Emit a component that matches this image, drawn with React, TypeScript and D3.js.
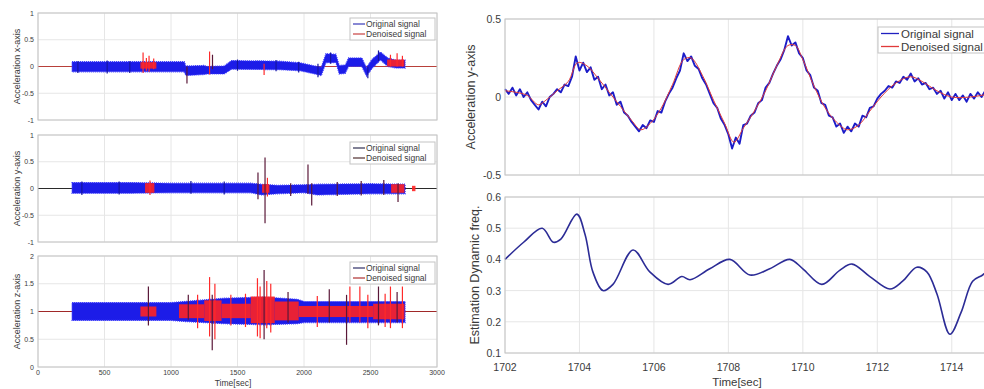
import React from 'react';
import * as d3 from 'd3';

// ---------- Left column: long records (Time 0..3000 s) ----------
const leftXTicks = [0, 500, 1000, 1500, 2000, 2500, 3000];
const leftXTickLabels = ['0', '500', '1000', '1500', '2000', '2500', '3000'];
const accTicks = [-1, -0.5, 0, 0.5, 1];
const accTickLabels = ['-1', '-0.5', '0', '0.5', '1'];
const zTicks = [0, 0.5, 1, 1.5, 2];
const zTickLabels = ['0', '0.5', '1', '1.5', '2'];
const legendLabels = ['Original signal', 'Denoised signal'];

// x-axis acceleration
const xBandT = [256, 1100, 1112, 1250, 1270, 1400, 1455, 1820, 1970, 2100, 2130, 2165, 2240, 2265, 2310, 2335, 2435, 2470, 2510, 2575, 2630, 2690, 2760];
const xBandLo = [-0.1, -0.1, -0.17, -0.15, -0.14, -0.14, -0.05, -0.06, -0.08, -0.15, -0.17, 0.07, 0.07, -0.14, -0.13, 0.0, 0.0, -0.18, -0.04, 0.12, 0.0, -0.03, -0.03];
const xBandHi = [0.09, 0.09, 0.01, 0.02, 0.0, 0.01, 0.11, 0.1, 0.07, 0.0, -0.01, 0.24, 0.23, 0.02, 0.03, 0.16, 0.16, -0.02, 0.13, 0.27, 0.16, 0.12, 0.12];
const xRedStart = [770, 2625];
const xRedEnd = [890, 2755];
const xRedLo = [-0.04, 0.0];
const xRedHi = [0.08, 0.13];
const xSpikeT = [300, 520, 690, 790, 815, 835, 870, 1120, 1290, 1312, 1500, 1700, 1790, 1960, 2105, 2200, 2480, 2560, 2650, 2700, 2740];
const xSpikeLo = [-0.12, -0.13, -0.12, -0.12, -0.08, -0.1, -0.05, -0.32, -0.15, -0.05, -0.08, -0.16, -0.09, -0.11, -0.2, 0.05, -0.22, 0.1, 0.0, 0.0, 0.0];
const xSpikeHi = [0.1, 0.11, 0.1, 0.26, 0.16, 0.2, 0.15, 0.0, 0.28, 0.22, 0.13, 0.05, 0.12, 0.09, 0.05, 0.26, 0.0, 0.3, 0.22, 0.25, 0.2];
const xSpikeC = ['b', 'b', 'b', 'r', 'r', 'r', 'r', 'k', 'r', 'k', 'b', 'r', 'b', 'b', 'b', 'b', 'b', 'b', 'r', 'r', 'r'];

// y-axis acceleration
const yBandT = [256, 700, 1000, 1600, 1680, 1800, 2000, 2100, 2500, 2760];
const yBandLo = [-0.09, -0.09, -0.08, -0.08, -0.12, -0.1, -0.08, -0.12, -0.1, -0.1];
const yBandHi = [0.11, 0.11, 0.1, 0.1, 0.08, 0.06, 0.07, 0.08, 0.09, 0.08];
const yRedStart = [805, 1685, 2655, 2812];
const yRedEnd = [875, 1740, 2755, 2838];
const yRedLo = [-0.08, -0.08, -0.08, -0.05];
const yRedHi = [0.1, 0.08, 0.08, 0.05];
const ySpikeT = [330, 610, 842, 1150, 1400, 1654, 1707, 1725, 1900, 2030, 2058, 2250, 2430, 2600, 2707];
const ySpikeLo = [-0.12, -0.11, -0.12, -0.1, -0.11, -0.2, -0.65, -0.15, -0.14, -0.1, -0.32, -0.14, -0.13, -0.12, -0.25];
const ySpikeHi = [0.13, 0.13, 0.15, 0.14, 0.13, 0.3, 0.58, 0.2, 0.1, 0.45, 0.1, 0.12, 0.14, 0.16, 0.1];
const ySpikeC = ['b', 'b', 'r', 'b', 'b', 'k', 'k', 'r', 'k', 'k', 'k', 'k', 'k', 'k', 'k'];

// z-axis acceleration
const zBandT = [256, 1000, 1100, 1400, 1700, 1950, 2000, 2760];
const zBandLo = [0.84, 0.84, 0.82, 0.78, 0.76, 0.78, 0.8, 0.8];
const zBandHi = [1.16, 1.16, 1.18, 1.24, 1.26, 1.22, 1.18, 1.18];
const zRedStart = [770, 1060, 1250, 1380, 1600, 1780, 1960, 2520];
const zRedEnd = [890, 1250, 1380, 1600, 1780, 1960, 2520, 2755];
const zRedLo = [0.91, 0.88, 0.83, 0.88, 0.79, 0.84, 0.9, 0.86];
const zRedHi = [1.09, 1.13, 1.2, 1.14, 1.27, 1.18, 1.1, 1.14];
const zSpikeT = [830, 1130, 1200, 1290, 1310, 1330, 1450, 1560, 1650, 1670, 1700, 1720, 1750, 1880, 2100, 2190, 2320, 2345, 2420, 2480, 2560, 2610, 2650, 2700, 2740];
const zSpikeLo = [0.75, 0.85, 0.7, 0.55, 0.3, 0.5, 0.75, 0.72, 0.55, 0.52, 0.5, 0.7, 0.62, 0.8, 0.72, 0.8, 0.4, 0.8, 0.8, 0.7, 0.75, 0.72, 0.7, 0.8, 0.7];
const zSpikeHi = [1.45, 1.3, 1.3, 1.62, 1.3, 1.5, 1.3, 1.32, 1.6, 1.45, 1.75, 1.55, 1.5, 1.35, 1.28, 1.4, 1.3, 1.45, 1.45, 1.3, 1.45, 1.32, 1.45, 1.35, 1.45];
const zSpikeC = ['k', 'k', 'r', 'r', 'k', 'r', 'r', 'r', 'r', 'r', 'k', 'r', 'r', 'k', 'r', 'k', 'k', 'r', 'r', 'r', 'k', 'r', 'r', 'k', 'r'];

// ---------- Right column: zoom 1702..1715 s ----------
const rightXTicks = [1702, 1704, 1706, 1708, 1710, 1712, 1714];
const rightXTickLabels = ['1702', '1704', '1706', '1708', '1710', '1712', '1714'];
const rTopTicks = [-0.5, 0, 0.5];
const rTopTickLabels = ['-0.5', '0', '0.5'];
const freqTicks = [0.1, 0.2, 0.3, 0.4, 0.5, 0.6];
const freqTickLabels = ['0.1', '0.2', '0.3', '0.4', '0.5', '0.6'];

const origStart = 1702;
const origStep = 0.1;
const originalSignal = [
  0.05, 0.02, 0.06, 0.01, 0.05, 0.0, 0.03, -0.02, -0.05, -0.08,
  -0.03, -0.06, 0.0, 0.02, 0.05, 0.03, 0.08, 0.07, 0.13, 0.26,
  0.17, 0.22, 0.16, 0.19, 0.11, 0.13, 0.05, 0.08, 0.01, 0.03,
  -0.05, -0.03, -0.1, -0.12, -0.16, -0.19, -0.22, -0.18, -0.2, -0.15,
  -0.16, -0.09, -0.1, -0.03, 0.02, 0.06, 0.12, 0.17, 0.28, 0.23,
  0.26, 0.2, 0.18, 0.12, 0.08, 0.02, -0.04, -0.07, -0.14, -0.18,
  -0.24, -0.33, -0.26, -0.3, -0.18, -0.17, -0.12, -0.1, -0.04, -0.02,
  0.06, 0.09, 0.15, 0.2, 0.24, 0.3, 0.39, 0.33, 0.35, 0.28,
  0.25, 0.17, 0.14, 0.06, 0.04, -0.04, -0.05, -0.12, -0.13, -0.19,
  -0.17, -0.23, -0.19, -0.22, -0.17, -0.19, -0.12, -0.13, -0.07, -0.06,
  -0.01, 0.02, 0.04, 0.07, 0.06, 0.1, 0.09, 0.13, 0.11, 0.15,
  0.1, 0.12, 0.08, 0.09, 0.05, 0.06, 0.02, 0.04, -0.01, 0.03,
  -0.02, 0.02, -0.02, 0.01, -0.03, 0.02, -0.01, 0.03, 0.0, 0.04, 0.01,
];
const denoisedT = [1702.0, 1702.3, 1702.6, 1702.9, 1703.1, 1703.4, 1703.7, 1703.95, 1704.2, 1704.5, 1704.8, 1705.1, 1705.4, 1705.65, 1705.9, 1706.2, 1706.5, 1706.8, 1707.0, 1707.3, 1707.6, 1707.9, 1708.15, 1708.4, 1708.7, 1709.0, 1709.3, 1709.6, 1709.8, 1710.0, 1710.3, 1710.6, 1710.9, 1711.2, 1711.5, 1711.8, 1712.1, 1712.5, 1712.9, 1713.2, 1713.6, 1714.0, 1714.5, 1715.0];
const denoisedV = [0.04, 0.03, 0.01, -0.05, -0.02, 0.04, 0.1, 0.22, 0.2, 0.12, 0.03, -0.06, -0.15, -0.21, -0.17, -0.07, 0.08, 0.24, 0.25, 0.14, -0.02, -0.17, -0.29, -0.2, -0.09, 0.04, 0.2, 0.33, 0.33, 0.24, 0.07, -0.07, -0.16, -0.21, -0.18, -0.09, 0.0, 0.09, 0.13, 0.1, 0.04, 0.0, 0.0, 0.02];

const freqT = [1702.0, 1702.5, 1703.0, 1703.3, 1703.5, 1703.93, 1704.15, 1704.36, 1704.63, 1704.9, 1705.44, 1705.89, 1706.38, 1706.75, 1706.97, 1707.5, 1708.04, 1708.58, 1709.11, 1709.65, 1710.0, 1710.51, 1710.99, 1711.32, 1711.8, 1712.34, 1712.68, 1713.06, 1713.33, 1713.6, 1713.95, 1714.25, 1714.56, 1714.83, 1715.0];
const freqV = [0.4, 0.455, 0.5, 0.455, 0.465, 0.545, 0.48, 0.36, 0.3, 0.32, 0.43, 0.36, 0.32, 0.345, 0.335, 0.37, 0.4, 0.35, 0.37, 0.4, 0.37, 0.32, 0.365, 0.385, 0.345, 0.305, 0.33, 0.375, 0.36, 0.29, 0.16, 0.23, 0.33, 0.35, 0.37];

const FONT = "'Liberation Sans', Arial, Helvetica, sans-serif";
const GRID = '#e6e6e6';
const BOX = '#c4c4c4';
const TXT = '#3a3a3a';
const BLUE = '#1c1ce8';
const RED = '#ff2222';
const spikeColor: Record<string, string> = { r: '#ff2a2a', k: '#5a1838', b: '#1515a0' };

const lx = d3.scaleLinear().domain([0, 3000]).range([38, 437]);

type LeftProps = {
  top: number; bottom: number; domain: [number, number];
  ticks: number[]; tickLabels: string[]; label: string; base: number; baseColor: string;
  bandT: number[]; bandLo: number[]; bandHi: number[];
  redStart: number[]; redEnd: number[]; redLo: number[]; redHi: number[];
  spT: number[]; spLo: number[]; spHi: number[]; spC: string[];
  legendTop: number; legendColors: string[]; showX: boolean;
};

function LeftPanel(p: LeftProps) {
  const y = d3.scaleLinear().domain(p.domain).range([p.bottom, p.top]);
  const idx = p.bandT.map((_, i) => i);
  const band = d3.area<number>().x(i => lx(p.bandT[i])).y0(i => y(p.bandLo[i])).y1(i => y(p.bandHi[i]));
  const x0 = lx.range()[0], x1 = lx.range()[1];
  const mid = (p.top + p.bottom) / 2;
  return (
    <g>
      {leftXTicks.map(t => <line key={'gx' + t} x1={lx(t)} x2={lx(t)} y1={p.top} y2={p.bottom} stroke={GRID} />)}
      {p.ticks.map(t => <line key={'gy' + t} x1={x0} x2={x1} y1={y(t)} y2={y(t)} stroke={GRID} />)}
      <line x1={lx(0)} x2={lx(3000)} y1={y(p.base)} y2={y(p.base)} stroke={p.baseColor} strokeWidth={1} />
      <path d={band(idx) || ''} fill={BLUE} stroke="#3a3aff" strokeWidth={1.2} strokeDasharray="1 1" />
      {p.redStart.map((s, i) => (
        <rect key={'rd' + i} x={lx(s)} width={lx(p.redEnd[i]) - lx(s)} y={y(p.redHi[i])} height={y(p.redLo[i]) - y(p.redHi[i])} fill={RED} opacity={0.9} />
      ))}
      {p.spT.map((t, i) => (
        <line key={'sp' + i} x1={lx(t)} x2={lx(t)} y1={y(p.spLo[i])} y2={y(p.spHi[i])} stroke={spikeColor[p.spC[i]]} strokeWidth={1.2} />
      ))}
      <rect x={x0} y={p.top} width={x1 - x0} height={p.bottom - p.top} fill="none" stroke={BOX} />
      {p.ticks.map((t, i) => (
        <text key={'yt' + t} x={34} y={y(t) + 2.5} fontSize={7} textAnchor="end" fill={TXT}>{p.tickLabels[i]}</text>
      ))}
      {p.showX && leftXTicks.map((t, i) => (
        <text key={'xt' + t} x={lx(t)} y={375} fontSize={7} textAnchor="middle" fill={TXT}>{leftXTickLabels[i]}</text>
      ))}
      <text transform={`translate(20,${mid}) rotate(-90)`} fontSize={9} textAnchor="middle" fill={TXT}>{p.label}</text>
      <rect x={350} y={p.legendTop} width={85} height={22} fill="#fff" stroke={BOX} />
      {legendLabels.map((l, i) => (
        <g key={l}>
          <line x1={353} x2={365} y1={p.legendTop + 6 + i * 10} y2={p.legendTop + 6 + i * 10} stroke={p.legendColors[i]} strokeWidth={1.2} />
          <text x={366} y={p.legendTop + 9 + i * 10} fontSize={8.5} fill={TXT}>{l}</text>
        </g>
      ))}
    </g>
  );
}

export default function App() {
  const rx = d3.scaleLinear().domain([1702, 1715]).range([505, 989]);
  const ryTop = d3.scaleLinear().domain([-0.5, 0.5]).range([175, 19]);
  const ryBot = d3.scaleLinear().domain([0.1, 0.6]).range([353, 197]);
  const origLine = d3.line<number>().x((_, i) => rx(origStart + i * origStep)).y(v => ryTop(v));
  const denIdx = denoisedT.map((_, i) => i);
  const denLine = d3.line<number>().x(i => rx(denoisedT[i])).y(i => ryTop(denoisedV[i])).curve(d3.curveCatmullRom);
  const freqIdx = freqT.map((_, i) => i);
  const freqLine = d3.line<number>().x(i => rx(freqT[i])).y(i => ryBot(freqV[i])).curve(d3.curveCatmullRom);
  const rx0 = 505, rx1 = 989;

  return (
    <svg width={984} height={389} style={{ position: 'fixed', left: 0, top: 0, background: '#fff' }} fontFamily={FONT}>
      <rect x={0} y={0} width={984} height={389} fill="#fff" />
      <LeftPanel top={13} bottom={120} domain={[-1, 1]} ticks={accTicks} tickLabels={accTickLabels}
        label="Acceleration x-axis" base={0} baseColor="#b8403a"
        bandT={xBandT} bandLo={xBandLo} bandHi={xBandHi}
        redStart={xRedStart} redEnd={xRedEnd} redLo={xRedLo} redHi={xRedHi}
        spT={xSpikeT} spLo={xSpikeLo} spHi={xSpikeHi} spC={xSpikeC}
        legendTop={18} legendColors={['#3a3ab8', '#c84040']} showX={false} />
      <LeftPanel top={135} bottom={242} domain={[-1, 1]} ticks={accTicks} tickLabels={accTickLabels}
        label="Acceleration y-axis" base={0} baseColor="#2a2a2a"
        bandT={yBandT} bandLo={yBandLo} bandHi={yBandHi}
        redStart={yRedStart} redEnd={yRedEnd} redLo={yRedLo} redHi={yRedHi}
        spT={ySpikeT} spLo={ySpikeLo} spHi={ySpikeHi} spC={ySpikeC}
        legendTop={142} legendColors={['#303050', '#503030']} showX={false} />
      <LeftPanel top={256} bottom={367} domain={[0, 2]} ticks={zTicks} tickLabels={zTickLabels}
        label="Acceleration z-axis" base={1} baseColor="#a02828"
        bandT={zBandT} bandLo={zBandLo} bandHi={zBandHi}
        redStart={zRedStart} redEnd={zRedEnd} redLo={zRedLo} redHi={zRedHi}
        spT={zSpikeT} spLo={zSpikeLo} spHi={zSpikeHi} spC={zSpikeC}
        legendTop={262} legendColors={['#303068', '#b03030']} showX={true} />
      <text x={233} y={386} fontSize={8.5} textAnchor="middle" fill={TXT}>Time[sec]</text>

      {/* Right top */}
      <g>
        {rightXTicks.map(t => <line key={'g1' + t} x1={rx(t)} x2={rx(t)} y1={19} y2={175} stroke={GRID} />)}
        {rTopTicks.map(t => <line key={'h1' + t} x1={rx0} x2={rx1} y1={ryTop(t)} y2={ryTop(t)} stroke={GRID} />)}
        <path d={origLine(originalSignal) || ''} fill="none" stroke="#1c1cc8" strokeWidth={1.9} strokeLinejoin="round" />
        <path d={denLine(denIdx) || ''} fill="none" stroke="#e03a3a" strokeWidth={1} />
        <rect x={rx0} y={19} width={rx1 - rx0} height={156} fill="none" stroke={BOX} />
        {rTopTicks.map((t, i) => (
          <text key={'t1' + t} x={501} y={ryTop(t) + 4} fontSize={10.5} textAnchor="end" fill={TXT}>{rTopTickLabels[i]}</text>
        ))}
        <text transform={`translate(475,97) rotate(-90)`} fontSize={12.5} textAnchor="middle" fill={TXT}>Acceleration y-axis</text>
        <rect x={878} y={27} width={120} height={26} fill="#fff" stroke={BOX} />
        {legendLabels.map((l, i) => (
          <g key={'rl' + l}>
            <line x1={881} x2={899} y1={33.5 + i * 13} y2={33.5 + i * 13} stroke={i === 0 ? '#2020c0' : '#e03a3a'} strokeWidth={1.3} />
            <text x={901} y={37.5 + i * 13} fontSize={11.5} fill={TXT}>{l}</text>
          </g>
        ))}
      </g>

      {/* Right bottom */}
      <g>
        {rightXTicks.map(t => <line key={'g2' + t} x1={rx(t)} x2={rx(t)} y1={197} y2={353} stroke={GRID} />)}
        {freqTicks.map(t => <line key={'h2' + t} x1={rx0} x2={rx1} y1={ryBot(t)} y2={ryBot(t)} stroke={GRID} />)}
        <path d={freqLine(freqIdx) || ''} fill="none" stroke="#2c2c96" strokeWidth={1.6} />
        <rect x={rx0} y={197} width={rx1 - rx0} height={156} fill="none" stroke={BOX} />
        {freqTicks.map((t, i) => (
          <text key={'t2' + t} x={501} y={ryBot(t) + 4} fontSize={10.5} textAnchor="end" fill={TXT}>{freqTickLabels[i]}</text>
        ))}
        {rightXTicks.map((t, i) => (
          <text key={'xt2' + t} x={rx(t)} y={371} fontSize={10.5} textAnchor="middle" fill={TXT}>{rightXTickLabels[i]}</text>
        ))}
        <text x={737} y={386} fontSize={11.5} textAnchor="middle" fill={TXT}>Time[sec]</text>
        <text transform={`translate(479,275) rotate(-90)`} fontSize={12.5} textAnchor="middle" fill={TXT}>Estimation Dynamic freq.</text>
      </g>
    </svg>
  );
}
